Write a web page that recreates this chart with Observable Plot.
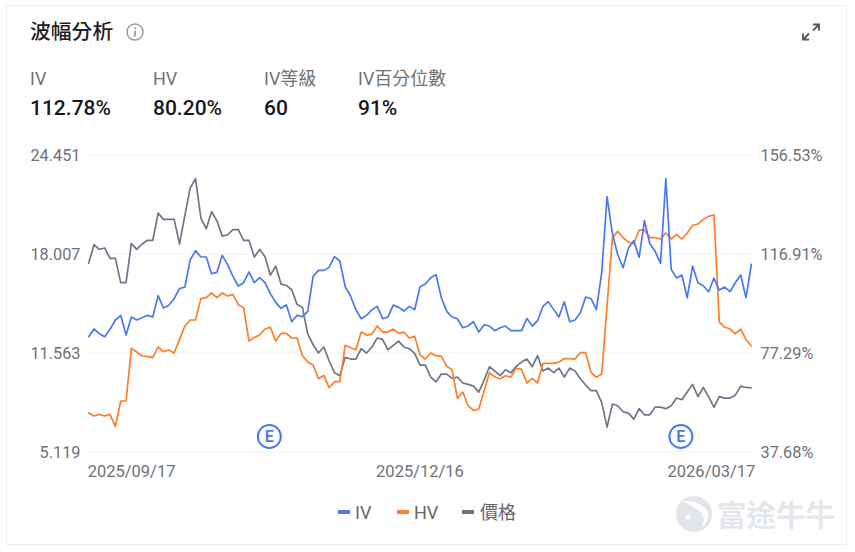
<!DOCTYPE html>
<html>
<head>
<meta charset="utf-8">
<script src="https://cdn.jsdelivr.net/npm/d3@7"></script>
<script src="https://cdn.jsdelivr.net/npm/@observablehq/plot@0.6"></script>
<style>
  html, body { margin:0; padding:0; background:#fff; }
  body { width:855px; height:552px; overflow:hidden; font-family:Roboto,"Noto Sans CJK TC",sans-serif; }
  #card { position:absolute; left:6px; top:5px; width:839px; height:538px; border:1px solid #eeeeee; box-sizing:content-box; }
  .abs { position:absolute; white-space:nowrap; line-height:1; }
  .title { left:30px; top:22px; font-size:20.8px; font-weight:500; color:#1f2126; font-family:Roboto,"Noto Sans CJK TC",sans-serif; }
  .lab { top:70px; font-size:18px; color:#707276; }
  .val { top:98px; font-size:21px; font-weight:500; color:#16181c; }
  .sw { position:absolute; top:510px; width:12px; height:4px; }
  .leg { top:504px; font-size:18px; color:#63666c; }
  #chart { position:absolute; left:0; top:140px; }
  #chart svg { display:block; }
</style>
</head>
<body>
<div id="card"></div>
<div class="abs title">波幅分析</div>
<svg class="abs" style="left:125px;top:22px" width="20" height="20" viewBox="0 0 20 20">
  <circle cx="10" cy="10" r="8" fill="none" stroke="#9a9a9a" stroke-width="1.5"/>
  <rect x="9.2" y="8.6" width="1.7" height="6" fill="#9a9a9a"/>
  <rect x="9.2" y="5.4" width="1.7" height="1.8" fill="#9a9a9a"/>
</svg>
<svg class="abs" style="left:800px;top:21px" width="22" height="22" viewBox="0 0 22 22">
  <path d="M13 3.5h6v6M19 3.5l-6 6M9 18.5h-6v-6M3 18.5l6-6" fill="none" stroke="#55585e" stroke-width="1.9"/>
</svg>
<div class="abs lab" style="left:30px">IV</div>
<div class="abs lab" style="left:153px">HV</div>
<div class="abs lab" style="left:264px">IV等級</div>
<div class="abs lab" style="left:358px">IV百分位數</div>
<div class="abs val" style="left:30px">112.78%</div>
<div class="abs val" style="left:153px">80.20%</div>
<div class="abs val" style="left:264px">60</div>
<div class="abs val" style="left:358px">91%</div>
<div id="chart"></div>
<div class="sw" style="left:338px;background:#4a78f5"></div>
<div class="abs leg" style="left:355px">IV</div>
<div class="sw" style="left:397px;background:#ff7d26"></div>
<div class="abs leg" style="left:414px">HV</div>
<div class="sw" style="left:462px;background:#6b7488"></div>
<div class="abs leg" style="left:480px">價格</div>
<svg class="abs" style="left:674px;top:495px" width="40" height="40" viewBox="0 0 40 40">
  <circle cx="20" cy="19" r="18" fill="#e1e5e9"/>
  <path d="M8 6c6 3 15 7 20 13 3 4 2 9-1 14 7-5 9-13 5-19C29 10 18 5 8 6z" fill="#fff"/>
  <circle cx="14" cy="22" r="2.6" fill="#fff"/>
</svg>
<div class="abs" style="left:717px;top:499px;font-size:29.5px;font-weight:700;color:#e3e7eb;font-family:'Noto Sans CJK TC',sans-serif">富途牛牛</div>
<script>
const ivSeries = [83.83,86.90,85.03,83.83,86.77,90.50,92.37,84.50,91.70,90.50,91.43,92.37,91.70,100.24,95.30,96.37,99.04,103.04,103.71,114.51,118.25,115.71,115.71,109.04,109.58,116.38,112.65,107.98,104.11,105.44,109.71,105.44,107.44,105.44,101.04,97.57,95.17,96.50,89.83,92.37,
91.82,93.96,107.96,110.36,110.36,111.56,115.83,114.10,103.83,100.09,94.62,91.02,92.35,94.62,95.96,91.02,91.69,96.49,95.56,94.09,95.96,94.62,103.83,104.89,107.43,108.63,99.42,93.96,91.69,91.02,87.42,88.09,89.82,85.68,88.62,88.09,86.22,87.42,88.09,86.22,86.22,86.22,91.15,88.09,90.22,
95.95,97.82,94.75,91.69,97.82,89.82,90.48,93.42,99.69,99.02,94.62,109.43,139.84,125.04,116.63,111.43,119.30,122.23,115.56,130.24,121.03,117.97,113.16,147.05,110.76,107.29,108.49,99.42,112.10,105.43,104.22,101.82,107.29,102.49,103.69,101.82,105.43,108.49,99.42,112.78];
const hvSeries = [53.28,52.08,52.75,52.08,52.75,47.81,58.08,58.08,79.16,77.69,76.09,75.96,75.43,79.70,77.83,78.49,77.29,82.63,88.10,90.50,90.50,99.04,99.44,101.31,99.44,101.31,100.11,100.77,96.64,95.44,82.10,83.56,84.50,86.90,87.57,82.10,85.16,85.16,83.30,83.30,
76.21,73.68,72.48,67.01,68.34,63.41,65.81,65.81,80.35,79.41,78.61,85.68,84.48,84.88,88.09,85.68,85.68,86.88,85.15,85.68,83.28,83.95,76.61,74.88,77.28,76.21,76.08,71.94,70.61,59.14,61.67,56.20,54.34,54.87,62.21,69.41,67.68,67.01,68.21,67.68,71.28,70.74,65.27,67.14,65.27,
73.14,73.14,73.14,73.68,75.01,75.01,74.88,77.41,77.41,69.54,67.54,68.87,96.22,123.43,125.97,123.43,121.70,121.03,126.50,126.50,123.43,123.43,122.90,125.30,122.90,124.77,122.90,125.30,128.37,128.90,130.77,131.97,132.64,89.68,87.68,86.88,85.02,86.88,82.61,80.20];
const priceSeries = [17.40,18.61,18.31,18.40,17.72,17.72,16.14,16.14,18.70,18.31,18.66,18.90,18.90,20.67,20.26,20.26,20.26,18.66,20.50,22.30,22.91,20.35,19.65,20.76,20.17,19.17,19.26,19.59,19.59,18.90,18.90,17.81,18.31,17.83,16.63,17.22,16.05,15.96,15.68,14.73,
14.53,12.80,12.10,11.56,11.95,11.06,10.28,10.09,11.28,11.17,11.17,11.84,11.56,11.95,12.54,12.45,11.76,12.06,12.34,11.95,11.84,11.54,10.78,10.78,10.00,9.69,10.19,10.19,9.91,10.00,9.61,9.52,9.41,9.02,9.80,10.67,10.39,10.09,10.47,10.28,10.69,10.97,11.17,10.67,11.39,
10.39,10.58,10.28,10.58,10.00,10.58,10.39,9.89,9.48,9.11,9.11,8.33,6.74,8.24,8.13,7.74,7.65,7.26,7.94,7.54,7.54,8.04,8.04,7.94,8.13,8.63,8.52,9.02,9.52,8.72,9.32,8.72,8.02,8.72,8.63,8.63,8.82,9.41,9.32,9.30];
const pctTicks = [37.68, 77.29, 116.91, 156.53];
const priceTicks = ["5.119", "11.563", "18.007", "24.451"];
const dateLabels = ["2025/09/17", "2025/12/16", "2026/03/17"];
const dateIndex = [0, 62, 124];
const earningsIndex = [34, 111];

const priceToPct = d3.scaleLinear([5.119, 24.451], [37.68, 156.53]);
const idx = (d, i) => i;
const axisInk = "#6f7175";
const dateMark = (k, anchor, dx) => Plot.text([k], {
  x: d => dateIndex[d], text: d => dateLabels[d], frameAnchor: "bottom",
  textAnchor: anchor, dx, dy: 19.5, lineAnchor: "middle", fontSize: 16.5, fill: axisInk
});

const chart = Plot.plot({
  width: 855, height: 345,
  marginLeft: 86, marginRight: 102, marginTop: 14.5, marginBottom: 33.5,
  style: { fontFamily: "Roboto, sans-serif", background: "transparent", overflow: "visible" },
  x: { domain: [-0.4, 124.4], axis: null },
  y: { domain: [37.68, 156.53], axis: null },
  marks: [
    Plot.gridY(pctTicks, { stroke: "#f1f1f1", strokeOpacity: 1, strokeWidth: 1 }),
    Plot.axisY({ anchor: "left", ticks: pctTicks, tickSize: 0, tickPadding: 6, label: null, fontSize: 16.3, fill: axisInk, dy: 1,
      tickFormat: d => priceTicks[pctTicks.indexOf(d)] }),
    Plot.axisY({ anchor: "right", ticks: pctTicks, tickSize: 0, tickPadding: 7, label: null, fontSize: 16.3, fill: axisInk, dy: 1,
      tickFormat: d => d.toFixed(2) + "%" }),
    dateMark(0, "start", -1),
    dateMark(1, "middle", 0),
    dateMark(2, "end", 4),
    Plot.line(priceSeries, { x: idx, y: d => priceToPct(d), stroke: "#6e7689", strokeWidth: 1.7 }),
    Plot.line(hvSeries, { x: idx, y: d => d, stroke: "#ff7d26", strokeWidth: 1.7 }),
    Plot.line(ivSeries, { x: idx, y: d => d, stroke: "#4a78f5", strokeWidth: 1.7 }),
    Plot.dot(earningsIndex, { x: d => d, dx: -1, frameAnchor: "bottom", dy: -15.5, r: 11.5, stroke: "#4a78f5", strokeWidth: 2, fill: "#fff" }),
    Plot.text(earningsIndex, { x: d => d, dx: -1, text: () => "E", frameAnchor: "bottom", dy: -15.5, lineAnchor: "middle", fontSize: 16, fontWeight: 600, fill: "#4a78f5" })
  ]
});
document.getElementById("chart").appendChild(chart);
</script>
</body>
</html>
